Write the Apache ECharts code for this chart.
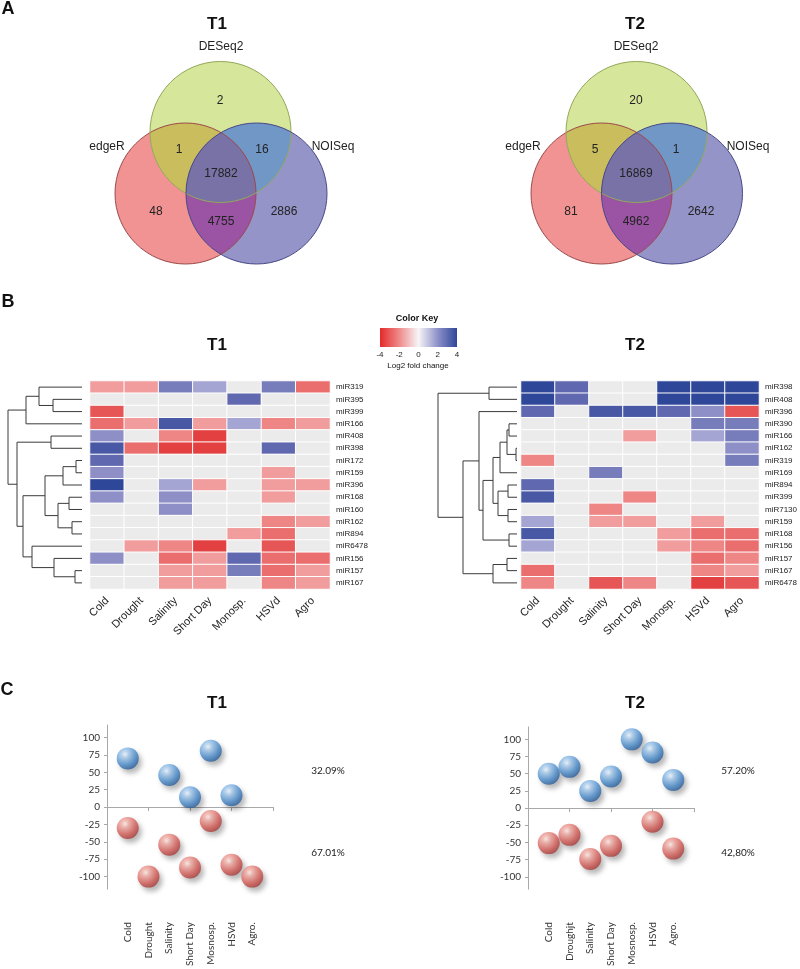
<!DOCTYPE html>
<html><head><meta charset="utf-8">
<script src="https://cdn.jsdelivr.net/npm/echarts@6/dist/echarts.min.js"></script>
<style>html,body{margin:0;padding:0;background:#fff}#c{width:800px;height:969px}</style>
</head><body><div id="c"></div>
<script>
// ================= DATA =================
// Panel A: Venn counts (region order below)
const vennSetNames = ['edgeR', 'DESeq2', 'NOISeq'];
const vennRegionOrder = ['DESeq2 only', 'edgeR∩DESeq2', 'DESeq2∩NOISeq', 'all three', 'edgeR only', 'edgeR∩NOISeq', 'NOISeq only'];
const vennCountsT1 = [2, 1, 16, 17882, 48, 4755, 2886];
const vennCountsT2 = [20, 5, 1, 16869, 81, 4962, 2642];

// Panel B: heatmaps (log2 fold change)
const conditions = ['Cold', 'Drought', 'Salinity', 'Short Day', 'Monosp.', 'HSVd', 'Agro'];
const rowsT1 = ['miR319','miR395','miR399','miR166','miR408','miR398','miR172','miR159','miR396','miR168','miR160','miR162','miR894','miR6478','miR156','miR157','miR167'];
const valuesT1 = [
  [-1.5,-1.5, 2.5, 1.5, 0, 2.5,-2.5],
  [0, 0, 0, 0, 3, 0, 0],
  [-3, 0, 0, 0, 0, 0, 0],
  [-2.5,-1.5, 3.5,-1.5, 1.5,-2,-1.5],
  [2, 0,-2,-3.5, 0, 0, 0],
  [3.5,-2.5,-3.5,-3.5, 0, 3, 0],
  [3, 0, 0, 0, 0, 0, 0],
  [2, 0, 0, 0, 0,-1.5, 0],
  [4, 0, 1.5,-1.5, 0,-1.5,-1.5],
  [2, 0, 2, 0, 0,-1.5, 0],
  [0, 0, 2, 0, 0, 0, 0],
  [0, 0, 0, 0, 0,-2,-1.5],
  [0, 0, 0, 0,-1.5,-2.5, 0],
  [0,-1.5,-2,-3.5, 0,-3, 0],
  [2, 0,-2.5,-1.5, 3,-2.5,-2.5],
  [0, 0,-1.5,-1.5, 2.5,-2.5,-1.5],
  [0, 0,-1.5,-1.5, 0,-2,-1.5]
];
const rowsT2 = ['miR398','miR408','miR396','miR390','miR166','miR162','miR319','miR169','miR894','miR399','miR7130','miR159','miR168','miR156','miR157','miR167','miR6478'];
const valuesT2 = [
  [4, 3, 0, 0, 4, 4, 4],
  [4, 3, 0, 0, 4, 4, 4],
  [3, 0, 3.5, 3.5, 3, 2,-3],
  [0, 0, 0, 0, 0, 2.5, 2.5],
  [0, 0, 0,-1.5, 0, 1.5, 2.5],
  [0, 0, 0, 0, 0, 0, 2],
  [-2, 0, 0, 0, 0, 0, 2.5],
  [0, 0, 2.5, 0, 0, 0, 0],
  [3, 0, 0, 0, 0, 0, 0],
  [3.5, 0, 0,-2, 0, 0, 0],
  [0, 0,-2, 0, 0, 0, 0],
  [1.5, 0,-1.5,-1.5, 0,-1.5, 0],
  [3.5, 0, 0, 0,-1.5,-2.5,-2.5],
  [1.5, 0, 0, 0,-1.5,-2,-2.5],
  [0, 0, 0, 0, 0,-2.5,-2],
  [-2.5, 0, 0, 0, 0,-2,-1.5],
  [-2, 0,-3,-2, 0,-3.5,-3]
];
// dendrogram merges: [left, right, height]; strings = leaves, numbers = earlier merge
const mergesT1 = [
  ['miR395','miR399',29], ['miR319',0,43], [1,'miR166',56], ['miR408','miR398',31],
  ['miR172','miR159',6], [4,'miR396',19], ['miR168','miR160',13], ['miR162','miR894',10],
  [6,7,24], [5,8,37], ['miR157','miR167',7], ['miR156',10,28], ['miR6478',11,50],
  [9,12,59], [3,13,65], [2,14,74]
];
const mergesT2 = [
  ['miR398','miR408',28], ['miR390','miR166',8], ['miR162','miR319',1], [1,2,10],
  [3,'miR169',17], ['miR894','miR399',9], ['miR7130','miR159',9], [5,6,19], [4,7,24],
  ['miR168','miR156',8], [8,9,34], ['miR396',10,38], ['miR157','miR167',10],
  [12,'miR6478',24], [11,13,54], [0,14,79]
];
const keyTicks = [-4, -2, 0, 2, 4];

// Panel C
const scatterCatsT1 = ['Cold', 'Drought', 'Salinity', 'Short Day', 'Mosnosp.', 'HSVd', 'Agro.'];
const scatterCatsT2 = ['Cold', 'Droughjt', 'Salinity', 'Short Day', 'Mosnosp.', 'HSVd', 'Agro.'];
const upT1 = [70, null, 46, 14, 81, 17, null];
const downT1 = [-30, -100, -54, -87, -20, -83, -100];
const upT2 = [50, 60, 25, 46, 100, 81, 41];
const downT2 = [-51, -39, -74, -55, null, -20, -59];
const pctT1 = ['32.09%', '67.01%'];
const pctT2 = ['57.20%', '42,80%'];
const yTicksC = [-100, -75, -50, -25, 0, 25, 50, 75, 100];

// ================= LAYOUT / STYLE =================
const FONT = "'Liberation Sans', Arial, Helvetica, sans-serif";
const FONT_C = "Lato, 'Open Sans', sans-serif";
const vennLayout = [
  { circles: [[185.5,193.5,70.5],[220.5,132,70.5],[256.5,193.5,70.5]],
    setLabels: [[107,147],[221,47],[333,147]],
    regionPos: [[220,101],[179,150],[262,150],[221,174],[156,212],[221,222],[284,212]],
    counts: vennCountsT1 },
  { circles: [[601.5,193.5,70.5],[636.5,132,70.5],[672,193.5,70.5]],
    setLabels: [[523,147],[636,47],[748,147]],
    regionPos: [[636,101],[595,150],[676,150],[636,174],[571,212],[636,222],[701,212]],
    counts: vennCountsT2 }
];
const vennCol = { r:'#f29393', g:'#d6e69b', b:'#9494c9', rg:'#c9bd5e', gb:'#7097c6', rb:'#9a54a3', rgb:'#7872a6' };
const vennStroke = ['#9b4a4a', '#93a85a', '#4a4a86'];

function vennRender(params, api) {
  const L = vennLayout[api.value(0)];
  const c = L.circles.map(ci => { const p = api.coord([ci[0], ci[1]]); return { cx: p[0], cy: p[1], r: ci[2] }; });
  const circ = (k, fill, extra) => Object.assign({ type: 'circle', shape: c[k], style: { fill: fill } }, extra || {});
  const clip = k => ({ type: 'circle', shape: c[k] });
  const children = [
    circ(0, vennCol.r), circ(1, vennCol.g), circ(2, vennCol.b),
    circ(0, vennCol.rg, { clipPath: clip(1) }),
    circ(1, vennCol.gb, { clipPath: clip(2) }),
    circ(0, vennCol.rb, { clipPath: clip(2) }),
    { type: 'group', clipPath: clip(1), children: [circ(0, vennCol.rgb, { clipPath: clip(2) })] }
  ];
  for (let k = 0; k < 3; k++) children.push({ type: 'circle', shape: c[k], style: { fill: 'none', stroke: vennStroke[k], lineWidth: 1 } });
  L.regionPos.forEach((p, i) => {
    const q = api.coord(p);
    children.push({ type: 'text', x: q[0], y: q[1], style: { text: String(L.counts[i]), font: '12px ' + FONT, fill: '#222', align: 'center', verticalAlign: 'middle' } });
  });
  L.setLabels.forEach((p, i) => {
    const q = api.coord(p);
    children.push({ type: 'text', x: q[0], y: q[1], style: { text: vennSetNames[i], font: '12px ' + FONT, fill: '#222', align: 'center', verticalAlign: 'middle' } });
  });
  return { type: 'group', children };
}

function dendroData(merges, rows) {
  const pos = [], hts = [], out = [];
  const yOf = ref => typeof ref === 'string' ? rows.indexOf(ref) : pos[ref];
  const hOf = ref => typeof ref === 'string' ? 0 : hts[ref];
  merges.forEach((m, i) => {
    const y1 = yOf(m[0]), y2 = yOf(m[1]);
    pos[i] = (y1 + y2) / 2; hts[i] = m[2];
    out.push([m[2], y1, y2, hOf(m[0]), hOf(m[1])]);
  });
  return out;
}
function dendroRender(params, api) {
  const h = api.value(0), y1 = api.value(1), y2 = api.value(2), h1 = api.value(3), h2 = api.value(4);
  const pts = [api.coord([h1, y1]), api.coord([h, y1]), api.coord([h, y2]), api.coord([h2, y2])];
  return { type: 'polyline', shape: { points: pts }, style: { fill: 'none', stroke: '#3a3a3a', lineWidth: 1 } };
}
function heatData(vals) {
  const d = [];
  vals.forEach((row, r) => row.forEach((v, c) => d.push([c, r, v])));
  return d;
}
const hmColors = ['#de2a2c','#e75656','#ee8686','#f3b4b4','#ebebeb','#b9badd','#8e8fc6','#6068b0','#2f4799'];

function ball(up) {
  const stops = up
    ? [[0,'#eef6fd'],[0.22,'#a9cdef'],[0.65,'#4d8fcf'],[1,'#285a96']]
    : [[0,'#fdebe6'],[0.22,'#f2aea6'],[0.65,'#d8605b'],[1,'#a43836']];
  return {
    color: { type: 'radial', x: 0.38, y: 0.32, r: 0.72, colorStops: stops.map(s => ({ offset: s[0], color: s[1] })) },
    shadowBlur: 5, shadowColor: 'rgba(0,0,0,0.35)', shadowOffsetX: 3, shadowOffsetY: 4
  };
}
const toPts = arr => arr.map((v, i) => v === null ? null : [i + 1, v]).filter(Boolean);

const gridsC = [{ left: 107, top: 725 }, { left: 528, top: 727 }];
const scatterAxesX = [], scatterAxesY = [];
[scatterCatsT1, scatterCatsT2].forEach((cats, g) => {
  scatterAxesX.push({ gridIndex: 6 + g, type: 'value', min: 0, max: 8, interval: 2, position: 'bottom',
    axisLine: { onZero: true, lineStyle: { color: '#a8a8a8' } }, axisTick: { show: true, length: 4, lineStyle: { color: '#a8a8a8' } },
    axisLabel: { show: false }, splitLine: { show: false } });
  scatterAxesX.push({ gridIndex: 6 + g, type: 'value', min: 0, max: 8, position: 'bottom', offset: 25,
    axisLine: { show: false, onZero: false }, axisTick: { show: false }, splitLine: { show: false },
    axisLabel: { show: true, rotate: 90, margin: 8, customValues: [1,2,3,4,5,6,7], fontFamily: FONT_C, fontSize: 10, color: '#333',
      formatter: v => cats[v - 1] } });
  scatterAxesY.push({ gridIndex: 6 + g, type: 'value', min: -118, max: 118,
    axisLine: { show: true, lineStyle: { color: '#a8a8a8' } },
    axisTick: { show: true, length: 3, customValues: yTicksC, lineStyle: { color: '#a8a8a8' } },
    axisLabel: { customValues: yTicksC, fontFamily: FONT_C, fontSize: 10, color: '#333', margin: 7 },
    splitLine: { show: false } });
});

const hideAxis = { show: false };
const texts = [
  ['A', 8, 9, 'bold 18px'], ['B', 8, 302, 'bold 18px'], ['C', 7, 690, 'bold 18px'],
  ['T1', 217, 24, 'bold 17px'], ['T2', 635, 24, 'bold 17px'],
  ['T1', 217, 345, 'bold 17px'], ['T2', 635, 345, 'bold 17px'],
  ['T1', 217, 703, 'bold 17px'], ['T2', 635, 703, 'bold 17px'],
  ['Color Key', 417, 319, 'bold 9px'], ['Log2 fold change', 418, 366, '8px']
];
const graphic = texts.map(t => ({ type: 'text', x: t[1], y: t[2], style: { text: t[0], font: t[3] + ' ' + FONT, fill: '#111', align: 'center', verticalAlign: 'middle' } }));
[[pctT1, 328], [pctT2, 738]].forEach(([p, x]) => {
  graphic.push({ type: 'text', x: x, y: 771, style: { text: p[0], font: '10px ' + FONT_C, fill: '#222', align: 'center', verticalAlign: 'middle' } });
  graphic.push({ type: 'text', x: x, y: 853, style: { text: p[1], font: '10px ' + FONT_C, fill: '#222', align: 'center', verticalAlign: 'middle' } });
});

const option = {
  animation: false,
  backgroundColor: '#fff',
  graphic: graphic,
  grid: [
    { left: 0, top: 0, width: 800, height: 300 },
    { left: 8, top: 381, width: 74, height: 208 },
    { left: 90, top: 381, width: 240, height: 208 },
    { left: 438, top: 381, width: 79, height: 208 },
    { left: 521, top: 381, width: 241, height: 208 },
    { left: 380, top: 328, width: 77, height: 19 },
    { left: gridsC[0].left, top: gridsC[0].top, width: 166, height: 170 },
    { left: gridsC[1].left, top: gridsC[1].top, width: 166, height: 170 }
  ],
  xAxis: [
    { gridIndex: 0, type: 'value', min: 0, max: 800, show: false },
    { gridIndex: 1, type: 'value', min: 0, max: 74, inverse: true, show: false },
    { gridIndex: 2, type: 'category', data: conditions, axisLine: hideAxis, axisTick: hideAxis,
      axisLabel: { rotate: 45, margin: 10, fontSize: 11, fontFamily: FONT, color: '#222', interval: 0 } },
    { gridIndex: 3, type: 'value', min: 0, max: 79, inverse: true, show: false },
    { gridIndex: 4, type: 'category', data: conditions, axisLine: hideAxis, axisTick: hideAxis,
      axisLabel: { rotate: 45, margin: 10, fontSize: 11, fontFamily: FONT, color: '#222', interval: 0 } },
    { gridIndex: 5, type: 'value', min: keyTicks[0], max: keyTicks[keyTicks.length - 1], interval: 2,
      axisLine: hideAxis, axisTick: hideAxis, splitLine: hideAxis,
      axisLabel: { fontSize: 8, margin: 4, fontFamily: FONT, color: '#222' } }
  ].concat(scatterAxesX),
  yAxis: [
    { gridIndex: 0, type: 'value', min: 0, max: 300, inverse: true, show: false },
    { gridIndex: 1, type: 'value', min: -0.5, max: rowsT1.length - 0.5, inverse: true, show: false },
    { gridIndex: 2, type: 'category', data: rowsT1, inverse: true, position: 'right', axisLine: hideAxis, axisTick: hideAxis,
      axisLabel: { fontSize: 8, margin: 6, fontFamily: FONT, color: '#222' } },
    { gridIndex: 3, type: 'value', min: -0.5, max: rowsT2.length - 0.5, inverse: true, show: false },
    { gridIndex: 4, type: 'category', data: rowsT2, inverse: true, position: 'right', axisLine: hideAxis, axisTick: hideAxis,
      axisLabel: { fontSize: 8, margin: 6, fontFamily: FONT, color: '#222' } },
    { gridIndex: 5, type: 'value', min: 0, max: 1, show: false }
  ].concat(scatterAxesY),
  visualMap: { type: 'continuous', show: false, min: -4, max: 4, dimension: 2, seriesIndex: [2, 4], inRange: { color: hmColors } },
  series: [
    { type: 'custom', xAxisIndex: 0, yAxisIndex: 0, data: [[0], [1]], renderItem: vennRender, clip: false, silent: true },
    { type: 'custom', xAxisIndex: 1, yAxisIndex: 1, data: dendroData(mergesT1, rowsT1), renderItem: dendroRender, clip: false },
    { type: 'heatmap', xAxisIndex: 2, yAxisIndex: 2, data: heatData(valuesT1), itemStyle: { borderColor: '#fff', borderWidth: 1 } },
    { type: 'custom', xAxisIndex: 3, yAxisIndex: 3, data: dendroData(mergesT2, rowsT2), renderItem: dendroRender, clip: false },
    { type: 'heatmap', xAxisIndex: 4, yAxisIndex: 4, data: heatData(valuesT2), itemStyle: { borderColor: '#fff', borderWidth: 1 } },
    { type: 'custom', xAxisIndex: 5, yAxisIndex: 5, data: [[keyTicks[0], keyTicks[keyTicks.length - 1]]],
      renderItem: (p, api) => {
        const a = api.coord([api.value(0), 1]), b = api.coord([api.value(1), 0]);
        return { type: 'rect', shape: { x: a[0], y: a[1], width: b[0] - a[0], height: b[1] - a[1] },
          style: { fill: new echarts.graphic.LinearGradient(0, 0, 1, 0, [
            { offset: 0, color: '#e42a2b' }, { offset: 0.25, color: '#ef8a8a' }, { offset: 0.5, color: '#f7f5f7' },
            { offset: 0.75, color: '#8d91c9' }, { offset: 1, color: '#2f4799' }]) } };
      } },
    { type: 'scatter', xAxisIndex: 6, yAxisIndex: 6, data: toPts(upT1), symbolSize: 22, itemStyle: ball(true) },
    { type: 'scatter', xAxisIndex: 6, yAxisIndex: 6, data: toPts(downT1), symbolSize: 22, itemStyle: ball(false) },
    { type: 'scatter', xAxisIndex: 8, yAxisIndex: 7, data: toPts(upT2), symbolSize: 22, itemStyle: ball(true) },
    { type: 'scatter', xAxisIndex: 8, yAxisIndex: 7, data: toPts(downT2), symbolSize: 22, itemStyle: ball(false) }
  ]
};
const chart = echarts.init(document.getElementById('c'), null, { renderer: 'canvas' });
chart.setOption(option);
</script></body></html>
